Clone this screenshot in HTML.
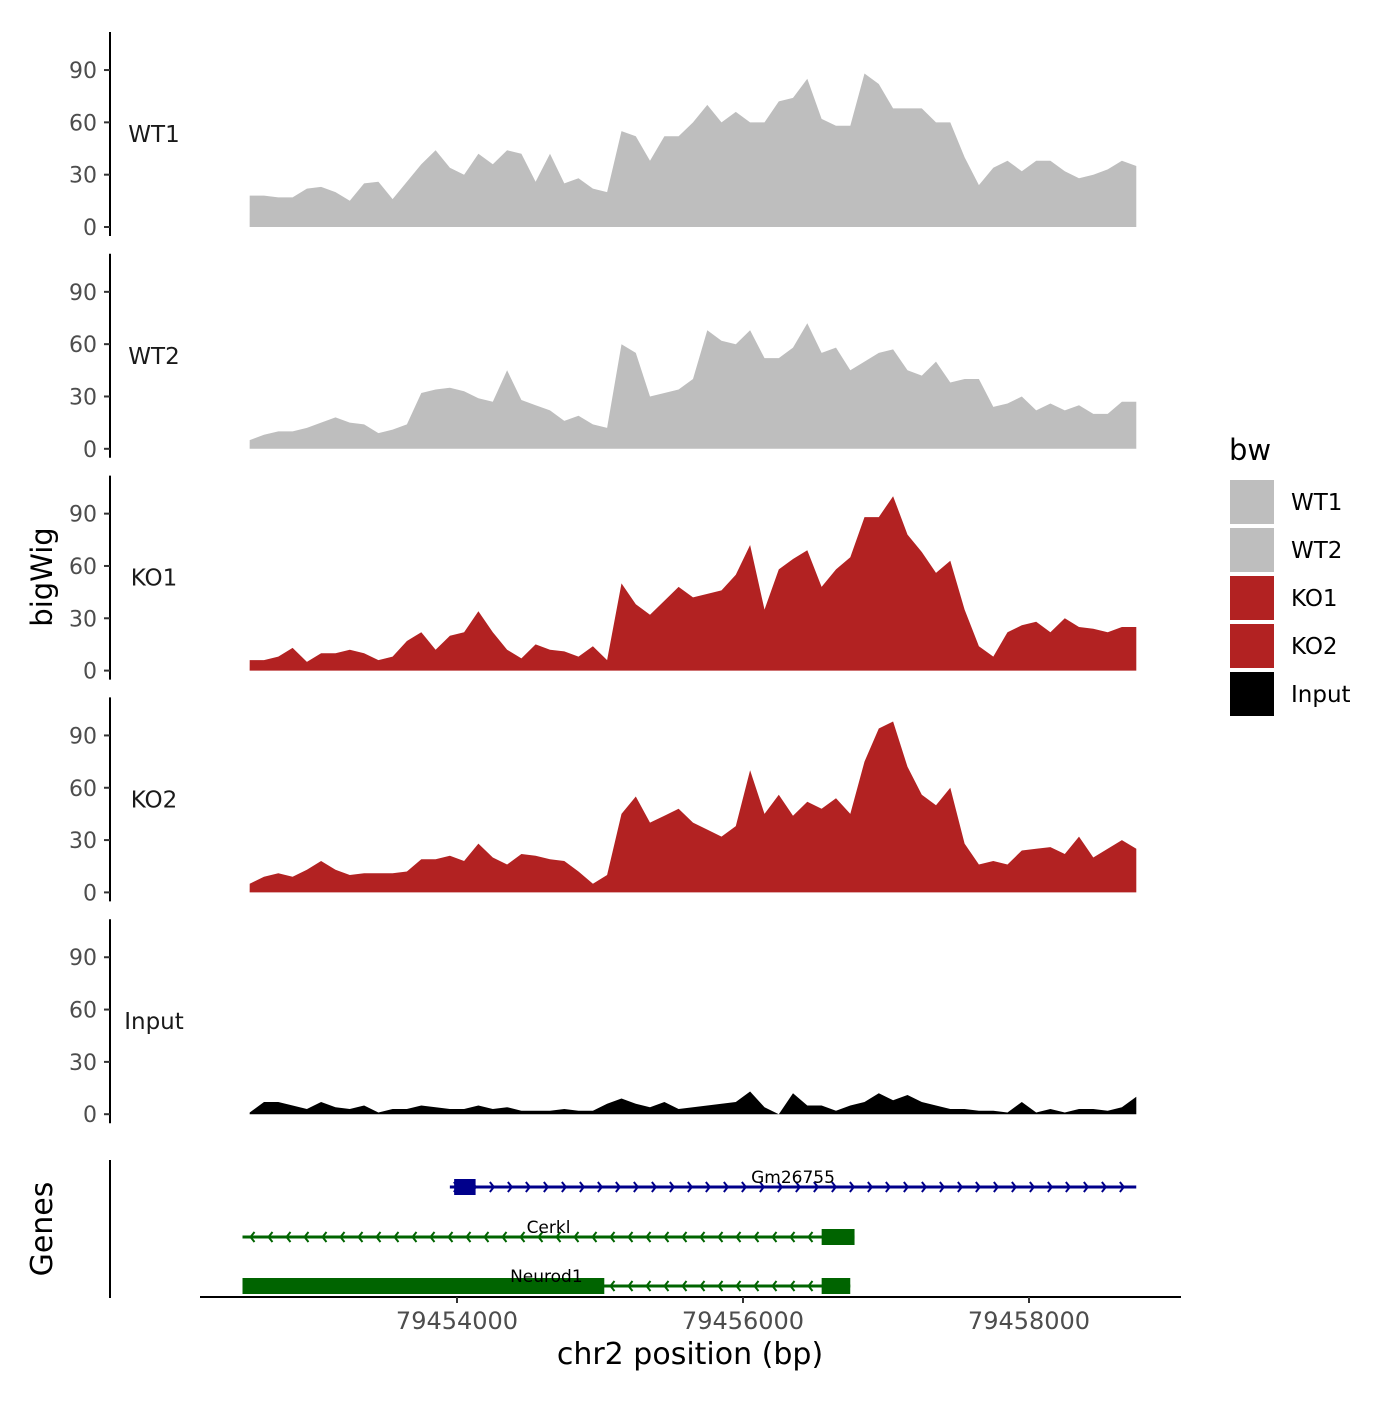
<!DOCTYPE html>
<html><head><meta charset="utf-8"><style>
body{margin:0;background:#fff}
svg{font-family:"DejaVu Sans","Liberation Sans",sans-serif}
</style></head><body>
<svg id="chart" width="1400" height="1400" xmlns="http://www.w3.org/2000/svg"></svg>
<script>
const trackNames=["WT1","WT2","KO1","KO2","Input"];
const trackColors=["#bebebe","#bebebe","#b22222","#b22222","#000000"];
const startBp=79452550, stepBp=100;
const wt1=[18,18,17,17,22,23,20,15,25,26,16,26,36,44,34,30,42,36,44,42,26,42,25,28,22,20,55,52,38,52,52,60,70,60,66,60,60,72,74,85,62,58,58,88,82,68,68,68,60,60,40,24,34,38,32,38,38,32,28,30,33,38,35];
const wt2=[5,8,10,10,12,15,18,15,14,9,11,14,32,34,35,33,29,27,45,28,25,22,16,19,14,12,60,55,30,32,34,40,68,62,60,68,52,52,58,72,55,58,45,50,55,57,45,42,50,38,40,40,24,26,30,22,26,22,25,20,20,27,27];
const ko1=[6,6,8,13,5,10,10,12,10,6,8,17,22,12,20,22,34,22,12,7,15,12,11,8,14,6,50,38,32,40,48,42,44,46,55,72,35,58,64,69,48,58,65,88,88,100,78,68,56,63,35,14,8,22,26,28,22,30,25,24,22,25,25];
const ko2=[5,9,11,9,13,18,13,10,11,11,11,12,19,19,21,18,28,20,16,22,21,19,18,12,5,10,45,55,40,44,48,40,36,32,38,70,45,56,44,52,48,54,45,75,94,98,72,56,50,60,28,16,18,16,24,25,26,22,32,20,25,30,25];
const input=[1,7,7,5,3,7,4,3,5,1,3,3,5,4,3,3,5,3,4,2,2,2,3,2,2,6,9,6,4,7,3,4,5,6,7,13,4,0,12,5,5,2,5,7,12,8,11,7,5,3,3,2,2,1,7,1,3,1,3,3,2,4,10];
const seriesValues=[wt1,wt2,ko1,ko2,input];
const yTicks=[0,30,60,90];
const xTicks=[79454000,79456000,79458000];
const genes=[
 {name:"Gm26755",strand:"+",start:79453950,end:79458750,exons:[[79453980,79454130]],row:0,color:"#00008b"},
 {name:"Cerkl",strand:"-",start:79452500,end:79456780,exons:[[79456550,79456780]],row:1,color:"#006400"},
 {name:"Neurod1",strand:"-",start:79452500,end:79456750,exons:[[79452500,79455030],[79456550,79456750]],row:2,color:"#006400"}
];
const NS="http://www.w3.org/2000/svg";
const svg=document.getElementById("chart");
function mk(tag,attrs,parent){const e=document.createElementNS(NS,tag);for(const k in attrs)e.setAttribute(k,attrs[k]);(parent||svg).appendChild(e);return e;}
const xScale=bp=>457+(bp-79454000)*0.143;
const panelZero=i=>227+i*221.8;
const yScale=(i,v)=>panelZero(i)-v*1.744;

for(let i=0;i<5;i++){
  const g=mk("g",{});
  
  
  const vals=seriesValues[i];
  let d="M"+xScale(startBp)+","+panelZero(i);
  vals.forEach((v,j)=>{d+=" L"+xScale(startBp+j*stepBp).toFixed(1)+","+yScale(i,v).toFixed(1);});
  d+=" L"+xScale(startBp+(vals.length-1)*stepBp).toFixed(1)+","+panelZero(i)+" Z";
  const p=mk("path",{d:d,fill:trackColors[i],stroke:"none"},g);
  
  
  const ax=mk("line",{x1:110,x2:110,y1:panelZero(i)-195,y2:panelZero(i)+9,stroke:"#000","stroke-width":2},g);
  
  
  yTicks.forEach(t=>{
    const y=yScale(i,t);
    const tk=mk("line",{x1:104,x2:110,y1:y,y2:y,stroke:"#333","stroke-width":2},g);
    
    
    const tl=mk("text",{x:97,y:y+8,"text-anchor":"end","font-size":"22",fill:"#4d4d4d"},g);
    tl.textContent=t;
    
    
  });
  const lab=mk("text",{x:154,y:panelZero(i)-85,"text-anchor":"middle","font-size":"23",fill:"#1a1a1a"},g);
  lab.textContent=trackNames[i];
  
  
}
const yt=mk("text",{x:0,y:0,transform:"translate(52,577) rotate(-90)","text-anchor":"middle","font-size":"29",fill:"#000"});
yt.textContent="bigWig";


const gl=mk("line",{x1:110,x2:110,y1:1160,y2:1298,stroke:"#000","stroke-width":2});


const gt=mk("text",{x:0,y:0,transform:"translate(52,1229) rotate(-90)","text-anchor":"middle","font-size":"30",fill:"#000"});
gt.textContent="Genes";


const rowY=[1187,1237,1286];
genes.forEach(gn=>{
  const g=mk("g",{});
  
  
  const y=rowY[gn.row];
  const x1=xScale(gn.start),x2=xScale(gn.end);
  mk("line",{x1:x1,x2:x2,y1:y,y2:y,stroke:gn.color,"stroke-width":3},g);
  for(let x=x1+8;x<=x2;x+=18){
    const dx=gn.strand==="+"?-4:4;
    mk("polyline",{points:(x+dx)+","+(y-5)+" "+x+","+y+" "+(x+dx)+","+(y+5),fill:"none",stroke:gn.color,"stroke-width":2},g);
  }
  gn.exons.forEach(ex=>{
    const r=mk("rect",{x:xScale(ex[0]),y:y-8,width:xScale(ex[1])-xScale(ex[0]),height:16,fill:gn.color},g);
    
    
  });
  const t=mk("text",{x:(x1+x2)/2,y:y-4,"text-anchor":"middle","font-size":"17",fill:"#000"},g);
  t.textContent=gn.name;
  
  
});
const xa=mk("line",{x1:200,x2:1181,y1:1297,y2:1297,stroke:"#000","stroke-width":2});


xTicks.forEach(t=>{
  const x=xScale(t);
  const tk=mk("line",{x1:x,x2:x,y1:1297,y2:1303,stroke:"#333","stroke-width":2});
  
  
  const tl=mk("text",{x:x,y:1329,"text-anchor":"middle","font-size":"24",fill:"#4d4d4d"});
  tl.textContent=t;
  
  
});
const xt=mk("text",{x:690,y:1364,"text-anchor":"middle","font-size":"30",fill:"#000"});
xt.textContent="chr2 position (bp)";


const lg=mk("g",{});


const lt=mk("text",{x:1229,y:460,"font-size":"29",fill:"#000"},lg);
lt.textContent="bw";


trackNames.forEach((n,i)=>{
  const e=mk("g",{},lg);
  
  
  mk("rect",{x:1230,y:480+i*48,width:44,height:44,fill:trackColors[i]},e);
  const t=mk("text",{x:1291,y:510+i*48,"font-size":"23",fill:"#000"},e);
  t.textContent=n;
});
</script>
</body></html>
